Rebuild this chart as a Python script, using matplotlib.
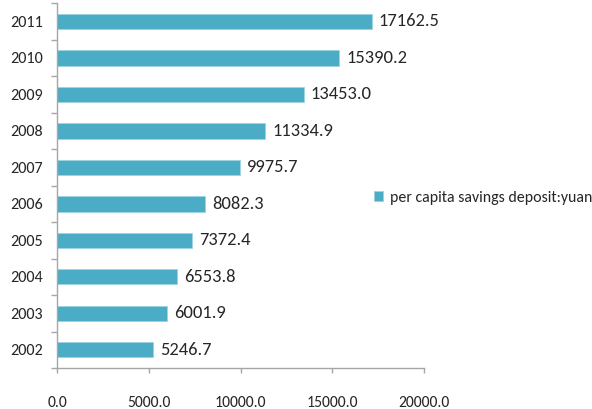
import numpy as np
import matplotlib
matplotlib.use("Agg")
import matplotlib.pyplot as plt
from matplotlib.ticker import FixedLocator

plt.rcParams['font.family'] = ['Carlito', 'DejaVu Sans']

years = ['2002', '2003', '2004', '2005', '2006', '2007', '2008', '2009', '2010', '2011']
deposit = [5246.7, 6001.9, 6553.8, 7372.4, 8082.3, 9975.7, 11334.9, 13453.0, 15390.2, 17162.5]
xticks = [0, 5000, 10000, 15000, 20000]
series_name = 'per capita savings deposit:yuan'

bar_color = '#4BACC6'
axis_color = '#A6A6A6'
text_color = '#262626'

fig = plt.figure(figsize=(5.92, 4.09), dpi=100)
ax = fig.add_axes([0.0963, 0.1002, 0.62, 0.892])

y = np.arange(len(years))
bars = ax.barh(y, deposit, height=0.42, color=bar_color,
               edgecolor='#9ED3E2', linewidth=0.6, label=series_name)
ax.bar_label(bars, fmt='%.1f', padding=5, fontsize=13.3, color=text_color)

ax.set_xlim(0, 20000)
ax.set_ylim(-0.5, len(years) - 0.5)
ax.set_xticks(xticks)
ax.set_xticklabels(['%.1f' % v for v in xticks])
ax.set_yticks(y)
ax.set_yticklabels(years)
ax.yaxis.set_minor_locator(FixedLocator(np.arange(-0.5, len(years) - 0.4, 1.0)))

for s in ['top', 'right']:
    ax.spines[s].set_visible(False)
for s in ['left', 'bottom']:
    ax.spines[s].set_color(axis_color)
    ax.spines[s].set_linewidth(1.0)

ax.tick_params(axis='x', direction='out', length=3.6, width=1.0, color=axis_color,
               pad=16.5, labelsize=11.3, labelcolor=text_color)
ax.tick_params(axis='y', which='major', length=0, pad=10, labelsize=11.6,
               labelcolor=text_color)
ax.tick_params(axis='y', which='minor', direction='out', length=4.3, width=1.0,
               color=axis_color)

fig.legend(loc='center left', bbox_to_anchor=(359.5 / 592, 1 - 198 / 409),
           frameon=False, fontsize=11.4, handlelength=0.58, handleheight=0.58,
           handletextpad=0.42, labelcolor=text_color)

fig.savefig('out.png', dpi=100)
